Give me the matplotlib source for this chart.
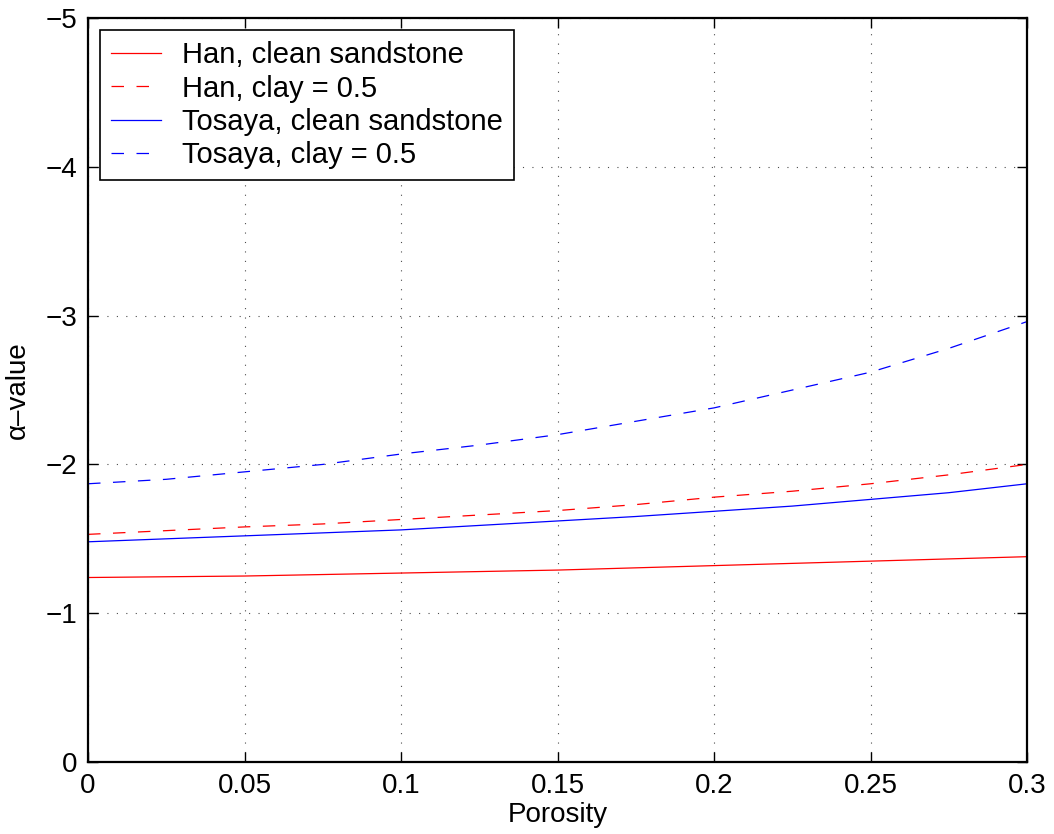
import matplotlib
matplotlib.use("Agg")
import matplotlib.pyplot as plt

# porosity samples and alpha values for each model
porosity = [0.0, 0.025, 0.05, 0.075, 0.1, 0.125, 0.15, 0.175, 0.2, 0.225, 0.25, 0.275, 0.3]
han_clean = [-1.24, -1.245, -1.25, -1.26, -1.27, -1.28, -1.29, -1.305, -1.32, -1.335, -1.35, -1.365, -1.38]
han_clay = [-1.53, -1.555, -1.58, -1.60, -1.63, -1.66, -1.69, -1.73, -1.78, -1.82, -1.87, -1.93, -2.00]
tosaya_clean = [-1.48, -1.50, -1.52, -1.54, -1.56, -1.59, -1.62, -1.65, -1.685, -1.72, -1.765, -1.81, -1.87]
tosaya_clay = [-1.87, -1.90, -1.95, -2.00, -2.07, -2.13, -2.20, -2.29, -2.38, -2.50, -2.62, -2.78, -2.96]

xticks = [0, 0.05, 0.1, 0.15, 0.2, 0.25, 0.3]
xticklabels = ["0", "0.05", "0.1", "0.15", "0.2", "0.25", "0.3"]
yticks = [0, -1, -2, -3, -4, -5]
yticklabels = ["0", "\u22121", "\u22122", "\u22123", "\u22124", "\u22125"]

plt.rcParams["font.family"] = ["Liberation Sans", "DejaVu Sans"]
plt.rcParams["lines.scale_dashes"] = False

fig = plt.figure(figsize=(10.54, 8.34), dpi=100)
ax = fig.add_axes([0.0835, 0.0863, 0.891, 0.8921])

lw = 0.9
dash = (0, (9, 9))
ax.plot(porosity, han_clean, color="red", linewidth=lw, label="Han, clean sandstone")
ax.plot(porosity, han_clay, color="red", linewidth=lw, linestyle=dash, label="Han, clay = 0.5")
ax.plot(porosity, tosaya_clean, color="blue", linewidth=lw, label="Tosaya, clean sandstone")
ax.plot(porosity, tosaya_clay, color="blue", linewidth=lw, linestyle=dash, label="Tosaya, clay = 0.5")

ax.set_xlim(0, 0.3)
ax.set_ylim(0, -5)
ax.set_xticks(xticks)
ax.set_xticklabels(xticklabels)
ax.set_yticks(yticks)
ax.set_yticklabels(yticklabels)

ax.grid(True, color="black", linestyle=(0, (0.8, 6)), linewidth=0.8, alpha=0.7)
ax.tick_params(direction="in", length=7, width=1.0, top=True, right=True,
               labelsize=20, pad=8)
for spine in ax.spines.values():
    spine.set_linewidth(1.6)

ax.set_xlabel("Porosity", fontsize=20, labelpad=2)
ax.set_ylabel("\u03b1\u2013value", fontsize=20, labelpad=10)

leg = ax.legend(loc="upper left", fontsize=21, frameon=True, fancybox=False,
                edgecolor="black", framealpha=1, handlelength=1.7,
                handletextpad=0.72, borderpad=0.38, labelspacing=0.18,
                borderaxespad=0.42)
leg.get_frame().set_linewidth(1.2)

fig.savefig("out.png", dpi=100)
